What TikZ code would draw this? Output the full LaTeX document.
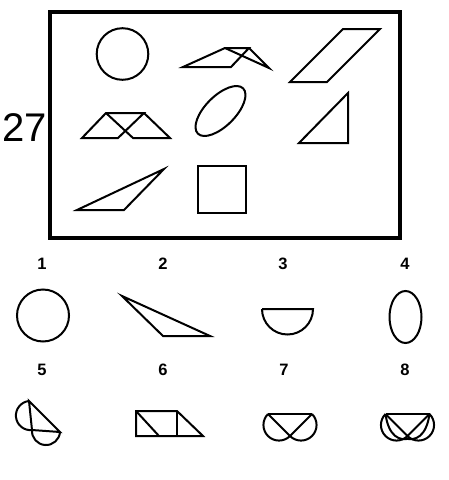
\documentclass[tikz,border=0pt]{standalone}
\usepackage{fontspec}
\setmainfont{Liberation Sans}
\begin{document}
\begin{tikzpicture}[x=1pt,y=-1pt,
  shp/.style={draw=black,line width=2pt,line join=miter},
  frm/.style={draw=black,line width=3.2pt},
  lbl/.style={font=\fontsize{16.5}{16.5}\selectfont\bfseries,inner sep=0pt},
  big/.style={font=\fontsize{40}{40}\selectfont,inner sep=0pt}]
\useasboundingbox[fill=white] (0,0) rectangle (448,480);
% frame and number
\draw[frm] (50,12) rectangle (400,238);
\node[big] (num) at (25,128) {27};
% --- figures inside the frame ---
\draw[shp] (122.5,54) circle[radius=25.8];
% roof shape
\coordinate (r1) at (183,67);
\coordinate (r2) at (231,67);
\coordinate (r3) at (249,48);
\coordinate (r4) at (225,48);
\coordinate (r5) at (269,68);
\draw[shp] (r1) -- (r2) -- (r3) -- (r4) -- cycle;
\draw[shp] (r4) -- (r5) -- (r3);
% parallelogram top right
\draw[shp] (290,82) -- (327,82) -- (380,29) -- (343,29) -- cycle;
% two overlapping parallelograms
\draw[shp] (82,138) -- (106,113) -- (144,113) -- (118,138) -- cycle;
\draw[shp] (106,113) -- (133,138) -- (170,138) -- (144,113);
% tilted ellipse
\draw[shp] (220.5,111) ellipse[x radius=32,y radius=15,rotate=45];
% right triangle
\draw[shp] (348,93) -- (348,143) -- (299,143) -- cycle;
% obtuse triangle
\draw[shp] (77,210) -- (124,210) -- (164,169) -- cycle;
% square
\draw[shp] (198,166) rectangle (246,213);
% --- labels ---
\node[lbl] (l1) at (42,264) {1};
\node[lbl] (l2) at (163,264) {2};
\node[lbl] (l3) at (283,264) {3};
\node[lbl] (l4) at (405,264) {4};
\node[lbl] (l5) at (42,370) {5};
\node[lbl] (l6) at (163,370) {6};
\node[lbl] (l7) at (284,370) {7};
\node[lbl] (l8) at (405,370) {8};
% option 1
\draw[shp] (43,315.5) circle[radius=26];
% option 2
\draw[shp] (122,296) -- (163,336) -- (210,336) -- cycle;
% option 3
\draw[shp] (262,309) -- (313,309) arc[start angle=0,end angle=180,radius=25.5];
% option 4
\draw[shp] (405.5,317) ellipse[x radius=16,y radius=26];
% option 5
\draw[shp] (29,401) -- (32,430) -- (60,432) -- cycle;
\draw[shp] (29,401) arc[start angle=264.1,end angle=84.1,radius=14.6];
\draw[shp] (32,430) arc[start angle=184.1,end angle=4.1,radius=14.04];
% option 6
\draw[shp] (136,411) -- (177,411) -- (203,436) -- (136,436) -- cycle;
\draw[shp] (177,411) -- (177,436);
\draw[shp] (136,411) -- (159,436);
% option 7
\draw[shp] (268,414) -- (312,414);
\draw[shp] (268,414) -- (290,436) -- (312,414);
\draw[shp] (268,414) arc[start angle=225,end angle=45,radius=15.56];
\draw[shp] (312,414) arc[start angle=-45,end angle=135,radius=15.56];
% option 8
\begin{scope}[xshift=117.5]
\draw[shp] (268,414) -- (312,414);
\draw[shp] (268,414) -- (290,436) -- (312,414);
\draw[shp] (268,414) arc[start angle=225,end angle=45,radius=15.56];
\draw[shp] (312,414) arc[start angle=-45,end angle=135,radius=15.56];
\draw[shp] (268,414) .. controls (271,436) and (282,442) .. (293,438);
\draw[shp] (312,414) .. controls (309,436) and (298,442) .. (287,438);
\end{scope}
\end{tikzpicture}
\end{document}
